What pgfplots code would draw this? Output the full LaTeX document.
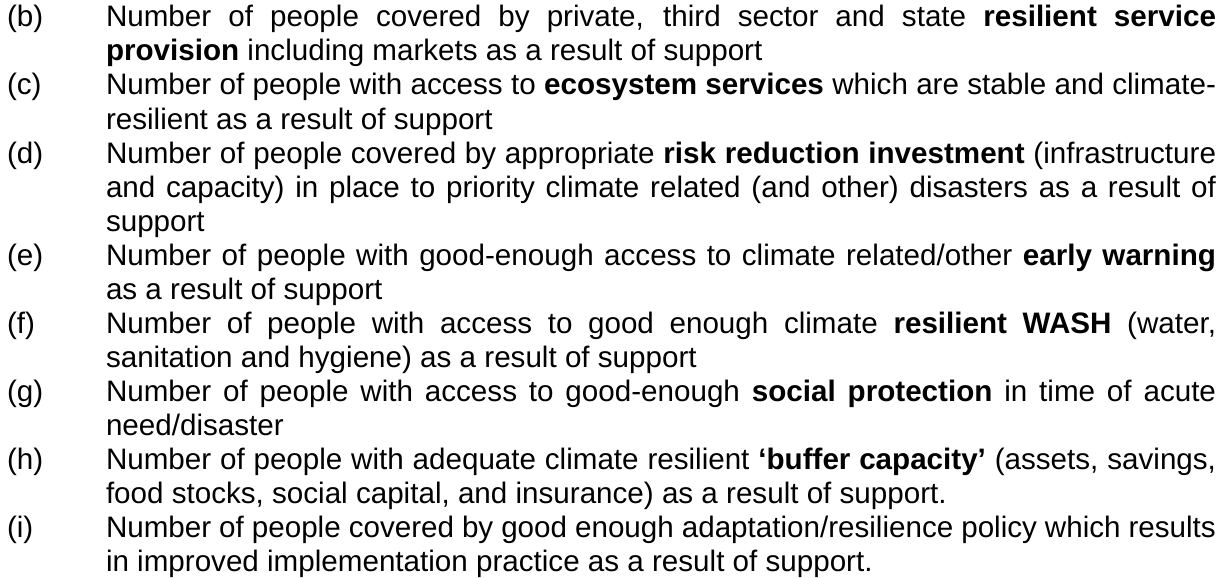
\documentclass[border=0pt]{standalone}
\usepackage{fontspec}
\setmainfont{Liberation Sans}
\usepackage{pgfplots}
\pgfplotsset{compat=1.18}

% full (justified) line of the item text
\newcommand{\jl}[1]{\makebox[1110bp][s]{#1}}

\begin{document}
\begin{tikzpicture}[
    txt/.style={font=\fontsize{29.6bp}{34bp}\selectfont, inner sep=0pt, outer sep=0pt, anchor=base west},
  ]
  \begin{axis}[
      scale only axis,
      width=1223bp, height=578bp,
      xmin=0, xmax=1223, ymin=0, ymax=578,
      y dir=reverse,
      hide axis,
      clip=false,
    ]
    % labels
    \node[txt] at (axis cs:7,27)  {(b)};
    \node[txt] at (axis cs:7,95)  {(c)};
    \node[txt] at (axis cs:7,163) {(d)};
    \node[txt] at (axis cs:7,265) {(e)};
    \node[txt] at (axis cs:7,333) {(f)};
    \node[txt] at (axis cs:7,401) {(g)};
    \node[txt] at (axis cs:7,469) {(h)};
    \node[txt] at (axis cs:7,537) {(i)};
    % item text
    \node[txt] at (axis cs:106,27)  {\jl{Number of people covered by private, third sector and state \textbf{resilient service}}};
    \node[txt] at (axis cs:106,61)  {\textbf{provision} including markets as a result of support};
    \node[txt] at (axis cs:106,95)  {\jl{Number of people with access to \textbf{ecosystem services} which are stable and climate-}};
    \node[txt] at (axis cs:106,129) {resilient as a result of support};
    \node[txt] at (axis cs:106,163) {\jl{Number of people covered by appropriate \textbf{risk reduction investment} (infrastructure}};
    \node[txt] at (axis cs:106,197) {\jl{and capacity) in place to priority climate related (and other) disasters as a result of}};
    \node[txt] at (axis cs:106,231) {support};
    \node[txt] at (axis cs:106,265) {\jl{Number of people with good-enough access to climate related/other \textbf{early warning}}};
    \node[txt] at (axis cs:106,299) {as a result of support};
    \node[txt] at (axis cs:106,333) {\jl{Number of people with access to good enough climate \textbf{resilient WASH} (water,}};
    \node[txt] at (axis cs:106,367) {sanitation and hygiene) as a result of support};
    \node[txt] at (axis cs:106,401) {\jl{Number of people with access to good-enough \textbf{social protection} in time of acute}};
    \node[txt] at (axis cs:106,435) {need/disaster};
    \node[txt] at (axis cs:106,469) {\jl{Number of people with adequate climate resilient \textbf{‘buffer capacity’} (assets, savings,}};
    \node[txt] at (axis cs:106,503) {food stocks, social capital, and insurance) as a result of support.};
    \node[txt] at (axis cs:106,537) {\jl{Number of people covered by good enough adaptation/resilience policy which results}};
    \node[txt] at (axis cs:106,571) {in improved implementation practice as a result of support.};
  \end{axis}
  \pgfresetboundingbox
  \path (0,0) rectangle (1223bp,578bp);
\end{tikzpicture}
\end{document}
